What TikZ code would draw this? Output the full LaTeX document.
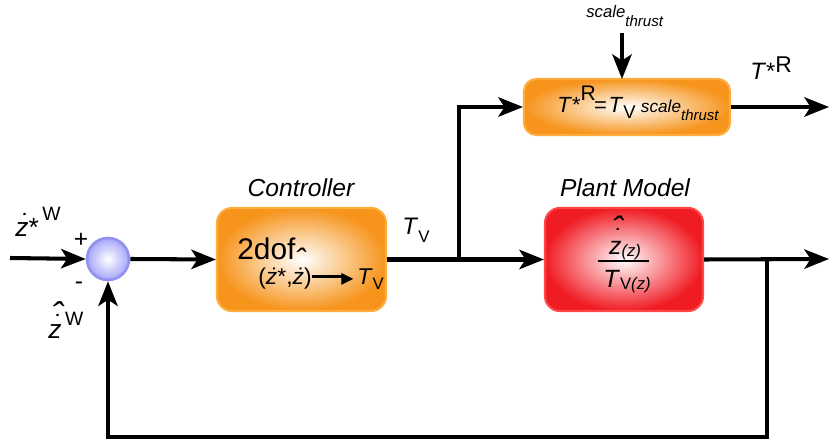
\documentclass[tikz,border=0pt]{standalone}
\usepackage{amsmath,amssymb}
\usepackage{graphicx}
\usepackage{fontspec}
\setmainfont{Liberation Sans}
\newfontfamily\dejavu{DejaVu Sans}
\usepackage{tikz}
\usetikzlibrary{arrows.meta, positioning, calc}

\definecolor{boxorange}{RGB}{246,148,28}
\definecolor{edgeorange}{RGB}{255,172,60}
\definecolor{boxred}{RGB}{240,28,36}
\definecolor{edgered}{RGB}{255,70,70}
\definecolor{sumblue}{RGB}{165,165,250}
\definecolor{edgeblue}{RGB}{145,145,240}

% font size in pt
\newcommand{\fsz}[1]{\fontsize{#1}{#1}\selectfont}
% raised / lowered pieces: size, shift, text
\newcommand{\hi}[3]{\raisebox{#2}{\fsz{#1}#3}}
% z with dot (raise of dot)
\newcommand{\zdot}[1]{\textit{\ooalign{z\cr\hidewidth\raisebox{#1}{\kern0.1em\char"02D9}\hidewidth\cr}}}
% z with dot and hat (raise of dot, raise of hat)
\newcommand{\zhdot}[2]{\textit{\ooalign{z\cr
  \hidewidth\raisebox{#1}{\kern0.1em\char"02D9}\hidewidth\cr
  \hidewidth\raisebox{#2}{\kern0.2em\scalebox{1.35}{\char"02C6}}\hidewidth\cr}}}
\newcommand{\blkarrow}{\rule[0.3em]{1.5em}{1.7pt}\kern-0.2em\raisebox{0.06em}{\dejavu\fsz{9}\char"25B6}}

\begin{document}
\begin{tikzpicture}[
  x=0.02cm, y=-0.02cm,
  font=\fsz{14},
  sig/.style={line width=2.3pt, -{Stealth[length=14pt, width=11pt, inset=3.5pt]}},
  blkbox/.style={
    rounded corners=8.5pt, line width=1.2pt,
    minimum height=2.06cm, inner sep=0pt
  },
  ctrlbox/.style={blkbox, draw=edgeorange, inner color=white, outer color=boxorange},
  plantbox/.style={blkbox, draw=edgered, inner color=white, outer color=boxred},
  sumnode/.style={circle, draw=edgeblue, line width=1.5pt, minimum size=0.84cm,
    inner sep=0pt, inner color=white, outer color=sumblue},
  blklabel/.style={font=\fsz{14}\itshape},
  lbl/.style={inner sep=0pt, anchor=base west}
]
\useasboundingbox (0,0) rectangle (829,442);

% ── Summing junction ─────────────────────────────────────────
\node[sumnode] (sum) at (108,259) {};
\coordinate (in) at (10,258);
\node[lbl, font=\fsz{15}] (zref) at (15,237) {\zdot{0.17em}*\kern2pt\hi{11}{9.5pt}{W}};
\node (plus) at (81,240) {+};
\node (minus) at (79,286) {-};
\node[lbl, font=\fsz{15}] (zfb) at (48,339) {\zhdot{0.2em}{0.43em}\kern2pt\hi{11}{7.5pt}{W}};

% ── Controller ───────────────────────────────────────────────
\node[ctrlbox, minimum width=3.38cm] (ctrl) at (301.5,259.5) {};
\node[blklabel] (ctrllab) at (301,188) {Controller};
\node[lbl, font=\fsz{17}] (dof) at (237,260) {2dof};
\node[lbl, font=\fsz{13}] (law) at (258,285)
  {(\zdot{0em}*,\zhdot{0.03em}{0.64em})\blkarrow\,\textit{T}\hi{9.5}{-2.5pt}{V}};

% ── Plant model ──────────────────────────────────────────────
\node[plantbox, minimum width=3.16cm] (plant) at (624,259.5) {};
\node[blklabel] (plantlab) at (625,188) {Plant Model};
\node[inner sep=0pt, anchor=base, font=\fsz{14.2}] (num) at (625,255)
  {\zhdot{0.36em}{0.6em}\hi{9.5}{-1pt}{\textit{(z)}}};
\node[inner sep=0pt, anchor=base, font=\fsz{14.2}] (den) at (627,288)
  {\textit{T}\hi{9.5}{-1pt}{V\textit{(z)}}};
\draw[line width=1pt] ([xshift=-3pt]den.west |- 0,261) -- ([xshift=-1pt]den.east |- 0,261);

% ── Thrust scaling ───────────────────────────────────────────
\node[ctrlbox, minimum width=4.12cm, minimum height=1.12cm, rounded corners=7pt] (scl) at (627,107) {};
\node[lbl, font=\fsz{12.5}] (sclfx) at (557,113)
  {\textit{T}*\hi{12}{7pt}{R}\kern-1pt=\kern1pt\textit{T}\hi{10.5}{-3pt}{V}\kern3pt%
   \textit{\fsz{9.8}scale}\hi{8.5}{-4.5pt}{\textit{thrust}}};
\node[lbl, font=\fsz{9.5}] (scllab) at (586,18)
  {\textit{scale}\hi{8.6}{-5pt}{\textit{thrust}}};
\coordinate (sclin) at (622,33);
\coordinate (sclto) at (622,79);

% ── Branch points and outputs ────────────────────────────────
\coordinate (br1) at (459,259);
\coordinate (br2) at (767,259);
\coordinate (outT) at (829,107);
\coordinate (outz) at (829,259);
\coordinate (fbl) at (767,437);
\node[lbl, font=\fsz{13.6}] (tv) at (402,235) {\textit{T}\hi{9.6}{-4pt}{V}};
\node[lbl, font=\fsz{13.5}] (tr) at (750,80) {\textit{T}*\hi{13}{4.5pt}{R}};

% ── Signal flow ──────────────────────────────────────────────
\draw[sig] (in) -- (sum.west);
\draw[sig] (sum.east) -- (ctrl.west);
\draw[sig] (ctrl.east) -- (plant.west);
\draw[sig] (br1) |- (scl.west);
\draw[sig] (sclin) -- (sclto);
\draw[sig] (scl.east) -- (outT);
\draw[sig] (plant.east) -- (outz);
\draw[sig] (br2) -- (fbl) -| (sum.south);

\end{tikzpicture}
\end{document}
